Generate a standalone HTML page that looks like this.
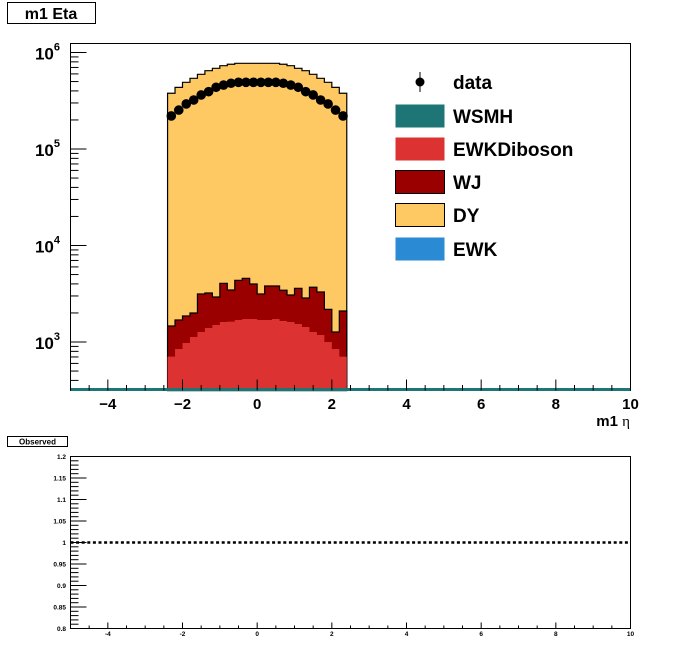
<!DOCTYPE html>
<html><head><meta charset="utf-8"><style>
body{margin:0;background:#fff;}
svg{display:block;font-family:"Liberation Sans",sans-serif;}
</style></head><body>
<svg id="c" width="700" height="650" xmlns="http://www.w3.org/2000/svg"></svg>
<script>
const binEdges = [-2.4,-2.2,-2.0,-1.8,-1.6,-1.4,-1.2,-1.0,-0.8,-0.6,-0.4,-0.2,0,0.2,0.4,0.6,0.8,1.0,1.2,1.4,1.6,1.8,2.0,2.2,2.4];
const ewkdVals = [705,846,977,1127,1269,1397,1500,1611,1624,1690,1731,1731,1690,1690,1731,1651,1611,1537,1430,1269,1182,1000,846,705];
const wjVals = [761,844,881,871,1874,1823,1427,2444,1835,2666,2836,2259,1453,2112,2071,1784,1459,2059,1427,2421,2114,1182,423,1389];
const totalVals = [378000,435000,491000,540000,594000,648000,686000,730000,755000,773000,773000,773000,773000,773000,773000,755000,730000,686000,648000,594000,540000,491000,435000,378000];
const dataVals = [220000,253000,293000,322000,363000,393000,436000,460000,480000,491000,491000,491000,491000,491000,491000,480000,460000,436000,393000,363000,322000,293000,253000,220000];
const xTicks = [-4,-2,0,2,4,6,8,10];
const yDecades = [3,4,5,6];
const ratioTicks = ["0.8","0.85","0.9","0.95","1","1.05","1.1","1.15","1.2"];
const ratioVal = 1;

const svg=document.getElementById('c');
const NS='http://www.w3.org/2000/svg';
function mk(t,a,txt){const e=document.createElementNS(NS,t);for(const k in a)e.setAttribute(k,a[k]);if(txt!==undefined)e.textContent=txt;svg.appendChild(e);return e;}
const X0=70.5,X1=630.5,Y0=43.5,Y1=390.5;
const xs=v=>X0+(v+5)/15*(X1-X0);
const ys=v=>342-(Math.log10(v)-3)*96.5;
const RY0=456.5,RY1=628.5;
const rys=v=>RY1-(v-0.8)/0.4*(RY1-RY0);

let e=mk('rect',{x:7.5,y:2.5,width:88,height:21,fill:'#fff',stroke:'#000'});

e=mk('text',{x:51,y:19,'font-size':16,'font-weight':'bold','text-anchor':'middle'},'m1 Eta');


e=mk('rect',{x:X0,y:Y0,width:X1-X0,height:Y1-Y0,fill:'#fff',stroke:'#000'});


function histPath(vals){
  let d='M'+xs(binEdges[0])+','+Y1;
  for(let i=0;i<vals.length;i++){d+=' L'+xs(binEdges[i])+','+ys(vals[i])+' L'+xs(binEdges[i+1])+','+ys(vals[i]);}
  d+=' L'+xs(binEdges[vals.length])+','+Y1+' Z';return d;
}
const wjTop=ewkdVals.map((v,i)=>v+wjVals[i]);
e=mk('path',{d:histPath(totalVals),fill:'#fec962',stroke:'#000','stroke-width':1.2});

e=mk('path',{d:histPath(wjTop),fill:'#9a0000',stroke:'#000','stroke-width':1.2});

e=mk('path',{d:histPath(ewkdVals),fill:'#dc3232',stroke:'none'});

e=mk('line',{x1:X0,x2:X1,y1:389.5,y2:389.5,stroke:'#1e7575','stroke-width':3});


for(let i=0;i<dataVals.length;i++){
  const cx=(xs(binEdges[i])+xs(binEdges[i+1]))/2;
  e=mk('circle',{cx:cx,cy:ys(dataVals[i]),r:4.8,fill:'#000'});
  
}

for(let v=-5;v<=10.001;v+=0.5){
  const maj=Math.abs(v-Math.round(v/2)*2)<1e-6;
  mk('line',{x1:xs(v),x2:xs(v),y1:Y1,y2:Y1-(maj?11:5.5),stroke:'#000'});
  mk('line',{x1:xs(v),x2:xs(v),y1:RY1,y2:RY1-(maj?6:3),stroke:'#000'});
}
xTicks.forEach(v=>{
  e=mk('text',{x:xs(v),y:409,'font-size':15,'font-weight':'bold','text-anchor':'middle'},String(v).replace('-','−'));
  
  e=mk('text',{x:xs(v),y:636,'font-size':6.5,'font-weight':'bold','text-anchor':'middle'},String(v));
  
});
e=mk('text',{x:630,y:426,'font-size':15,'font-weight':'bold','text-anchor':'end'},'m1 ');

e.appendChild(document.createElementNS(NS,'tspan')).textContent='η';e.lastChild.setAttribute('font-weight','normal');e.lastChild.setAttribute('font-family','Liberation Serif, serif');

for(let d=2;d<=6;d++){for(let m=1;m<10;m++){const v=m*Math.pow(10,d);const y=ys(v);if(y<Y0||y>Y1)continue;
  mk('line',{x1:X0,x2:X0+(m==1?16:8),y1:y,y2:y,stroke:'#000'});}}
yDecades.forEach(d=>{
  e=mk('text',{x:60,y:ys(Math.pow(10,d))+7,'font-size':17,'font-weight':'bold','text-anchor':'end'},'10');
  
  const t=document.createElementNS(NS,'tspan');t.setAttribute('font-size',11);t.setAttribute('dy',-9);t.textContent=String(d);e.appendChild(t);
});

const leg=[['data',null,82],['WSMH','#1e7575',116],['EWKDiboson','#dc3232',149],['WJ','#9a0000',182],['DY','#fec962',215],['EWK','#2a8ad4',249]];
leg.forEach(([n,c,y])=>{
  if(c){e=mk('rect',{x:395.5,y:y-11.5,width:49,height:23,fill:c,stroke:(n=='WJ'||n=='DY')?'#000':'none'});}
  else{mk('line',{x1:420,x2:420,y1:y-10,y2:y+10,stroke:'#000'});e=mk('circle',{cx:420,cy:y,r:4.5,fill:'#000'});}
  
  e=mk('text',{x:453,y:y+7,'font-size':19,'font-weight':'bold'},n);
  
});

e=mk('rect',{x:7.5,y:436.5,width:60,height:10,fill:'#fff',stroke:'#000'});

e=mk('text',{x:37.5,y:444.5,'font-size':8,'font-weight':'bold','text-anchor':'middle'},'Observed');

e=mk('rect',{x:X0,y:RY0,width:X1-X0,height:RY1-RY0,fill:'none',stroke:'#000'});

for(let v=0.8;v<=1.2001;v+=0.01){const maj=Math.abs(v*20-Math.round(v*20))<1e-6;
  mk('line',{x1:X0,x2:X0+(maj?16:8),y1:rys(v),y2:rys(v),stroke:'#000'});}
ratioTicks.forEach(t=>{
  e=mk('text',{x:66,y:rys(parseFloat(t))+2.5,'font-size':6.5,'font-weight':'bold','text-anchor':'end'},t);
  
});
e=mk('line',{x1:X0,x2:X1,y1:rys(ratioVal),y2:rys(ratioVal),stroke:'#000','stroke-width':2.5,'stroke-dasharray':'3,2.6'});

</script>
</body></html>
